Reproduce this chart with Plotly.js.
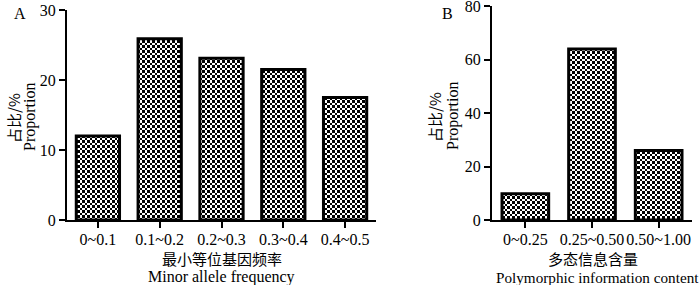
<!DOCTYPE html>
<html>
<head>
<meta charset="utf-8">
<script src="https://cdn.plot.ly/plotly-3.0.1.min.js"></script>
<style>html,body{margin:0;padding:0;background:#fff;}</style>
</head>
<body>
<div id="chart" style="width:700px;height:285px;"></div>
<script>
const catsA = ['0~0.1', '0.1~0.2', '0.2~0.3', '0.3~0.4', '0.4~0.5'];
const valsA = [12.0, 25.9, 23.1, 21.5, 17.5];
const catsB = ['0~0.25', '0.25~0.50', '0.50~1.00'];
const valsB = [9.8, 63.9, 26.0];
const ticksA = [0, 10, 20, 30];
const ticksB = [0, 20, 40, 60, 80];
const xTitleA = ['最小等位基因频率', 'Minor allele frequency'];
const xTitleB = ['多态信息含量', 'Polymorphic information content'];
const yTitle = ['占比/%', 'Proportion'];
const panels = ['A', 'B'];

const FONT = '"Liberation Serif", "Times New Roman", "Noto Sans CJK SC", serif';
const CJKFONT = '"Noto Sans CJK SC", "Liberation Serif", sans-serif';
const FS = 16;

const barStyle = {
  color: '#ffffff',
  line: {color: '#000000', width: 3},
  pattern: {shape: '.', fgcolor: '#000000', bgcolor: '#ffffff', size: 4, solidity: 0.5, fillmode: 'replace'}
};

const traces = [
  {type: 'bar', x: catsA, y: valsA, xaxis: 'x', yaxis: 'y', width: 0.7, marker: barStyle, hoverinfo: 'skip'},
  {type: 'bar', x: catsB, y: valsB, xaxis: 'x2', yaxis: 'y2', width: 0.7, marker: barStyle, hoverinfo: 'skip'}
];

const xbase = {
  type: 'category', showline: true, linecolor: '#000', linewidth: 2,
  ticks: 'outside', ticklen: 6, tickwidth: 2, tickcolor: '#000', tickangle: 0,
  showgrid: false, zeroline: false, tickfont: {family: FONT, size: FS, color: '#000'},
  automargin: false, fixedrange: true, ticklabelstandoff: -2
};
const ybase = {
  showline: true, linecolor: '#000', linewidth: 2,
  ticks: 'outside', ticklen: 6, tickwidth: 2, tickcolor: '#000',
  showgrid: false, zeroline: false, tickfont: {family: FONT, size: FS, color: '#000'},
  automargin: false, fixedrange: true, tickmode: 'array', ticklabeloverflow: 'allow'
};

function ann(text, x, y, opts) {
  return Object.assign({
    text: text, xref: 'paper', yref: 'paper', x: x / 700, y: 1 - y / 285,
    showarrow: false, xanchor: 'center', yanchor: 'middle', borderpad: 0,
    font: {family: FONT, size: FS, color: '#000'}
  }, opts || {});
}
const cjkFont = {family: CJKFONT, size: 15, color: '#000'};

const layout = {
  width: 700, height: 285,
  margin: {l: 0, r: 0, t: 0, b: 0},
  paper_bgcolor: '#fff', plot_bgcolor: '#fff',
  showlegend: false,
  font: {family: FONT, color: '#000'},
  xaxis: Object.assign({}, xbase, {domain: [67 / 700, 376 / 700], anchor: 'y', range: [-0.5, 4.5]}),
  yaxis: Object.assign({}, ybase, {domain: [65 / 285, 275 / 285], anchor: 'x', range: [0, 30], tickvals: ticksA}),
  xaxis2: Object.assign({}, xbase, {domain: [492 / 700, 692 / 700], anchor: 'y2', range: [-0.5, 2.5]}),
  yaxis2: Object.assign({}, ybase, {domain: [65 / 285, 279 / 285], anchor: 'x2', range: [0, 80], tickvals: ticksB}),
  annotations: [
    ann(panels[0], 20, 13),
    ann(panels[1], 447, 13),
    ann(xTitleA[0], 222, 258, {font: cjkFont}),
    ann(xTitleA[1], 222, 277),
    ann(xTitleB[0], 593, 258, {font: cjkFont}),
    ann(xTitleB[1], 597, 277, {font: {family: FONT, size: 15.2, color: '#000'}}),
    ann(yTitle[0], 14, 118, {textangle: -90, font: cjkFont}),
    ann(yTitle[1], 30, 117, {textangle: -90}),
    ann(yTitle[0], 435, 117, {textangle: -90, font: cjkFont}),
    ann(yTitle[1], 453, 116, {textangle: -90})
  ]
};

Plotly.newPlot('chart', traces, layout, {displayModeBar: false, staticPlot: true}).then(function (gd) {
  // turn Plotly's dot fill pattern into a checkerboard texture
  const NS = 'http://www.w3.org/2000/svg';
  gd.querySelectorAll('pattern').forEach(function (p) {
    const t = 5, h = t / 2;
    p.setAttribute('width', t);
    p.setAttribute('height', t);
    p.setAttribute('patternUnits', 'userSpaceOnUse');
    while (p.firstChild) p.removeChild(p.firstChild);
    const mk = function (x, y, w, hh, c) {
      const r = document.createElementNS(NS, 'rect');
      r.setAttribute('x', x); r.setAttribute('y', y);
      r.setAttribute('width', w); r.setAttribute('height', hh);
      r.setAttribute('fill', c);
      r.setAttribute('shape-rendering', 'crispEdges');
      p.appendChild(r);
    };
    mk(0, 0, t, t, '#ffffff');
    mk(0, 0, h, h, '#000000');
    mk(h, h, h, h, '#000000');
  });
});
</script>
</body>
</html>
